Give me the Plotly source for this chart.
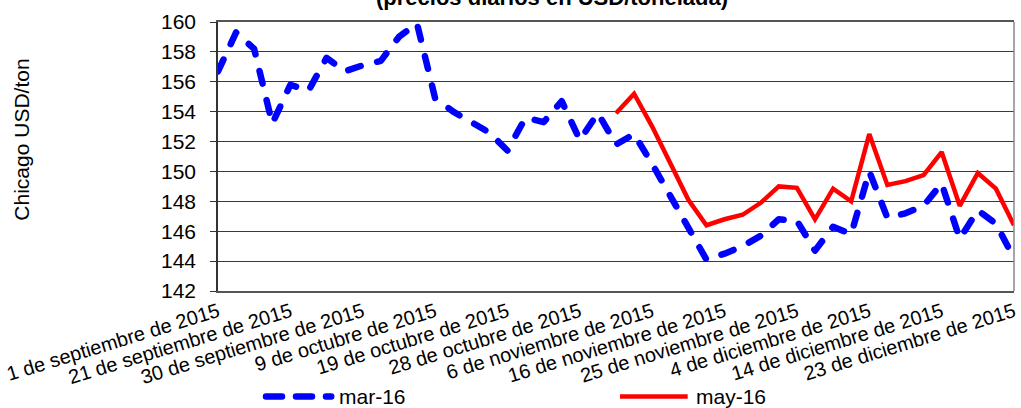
import plotly.graph_objects as go

fechas = [
    "1 de septiembre de 2015", "4 de septiembre de 2015", "9 de septiembre de 2015", "15 de septiembre de 2015",
    "21 de septiembre de 2015", "23 de septiembre de 2015", "25 de septiembre de 2015", "28 de septiembre de 2015",
    "30 de septiembre de 2015", "2 de octubre de 2015", "5 de octubre de 2015", "7 de octubre de 2015",
    "9 de octubre de 2015", "12 de octubre de 2015", "14 de octubre de 2015", "16 de octubre de 2015",
    "19 de octubre de 2015", "21 de octubre de 2015", "23 de octubre de 2015", "26 de octubre de 2015",
    "28 de octubre de 2015", "30 de octubre de 2015", "2 de noviembre de 2015", "4 de noviembre de 2015",
    "6 de noviembre de 2015", "9 de noviembre de 2015", "11 de noviembre de 2015", "13 de noviembre de 2015",
    "16 de noviembre de 2015", "18 de noviembre de 2015", "20 de noviembre de 2015", "23 de noviembre de 2015",
    "25 de noviembre de 2015", "27 de noviembre de 2015", "30 de noviembre de 2015", "2 de diciembre de 2015",
    "4 de diciembre de 2015", "7 de diciembre de 2015", "9 de diciembre de 2015", "11 de diciembre de 2015",
    "14 de diciembre de 2015", "16 de diciembre de 2015", "18 de diciembre de 2015", "21 de diciembre de 2015",
    "23 de diciembre de 2015",
]

mar16 = [
    156.7, 159.3, 158.2, 153.2, 155.8, 155.4, 157.6, 156.7, 157.1, 157.4,
    159.0, 159.9, 154.9, 154.0, 153.3, 152.6, 151.4, 153.6, 153.3, 154.7,
    152.1, 153.9, 151.8, 152.5, 150.5, 148.4, 146.3, 144.1, 144.5, 145.0,
    145.7, 146.8, 146.7, 144.7, 146.3, 145.8, 150.0, 146.9, 147.2, 147.7,
    149.2, 145.5, 147.4, 146.5, 144.2,
]

may16 = [None] * 22 + [
    153.9, 155.2, 153.0, 150.6, 148.1, 146.4, 146.8, 147.1, 147.9, 149.0,
    148.9, 146.8, 148.85, 148.0, 152.5, 149.1, 149.35, 149.75, 151.3, 147.7,
    149.9, 148.85, 146.4,
]

etiquetas_x = fechas[::4]
y_ticks = list(range(142, 161, 2))

W, H = 1021, 408
L, R, T, B = 218.3, 1017.7, 22.0, 290.7
FONT = "Arial, Liberation Sans, sans-serif"


def px(x):
    return (x - L) / (R - L)


def py(y):
    return (B - y) / (B - T)


fig = go.Figure()
fig.add_trace(go.Scatter(
    x=fechas, y=mar16, mode="lines", name="mar-16",
    line=dict(color="#0000FF", width=6.5, dash="13px,17px"),
))
fig.add_trace(go.Scatter(
    x=fechas, y=may16, mode="lines", name="may-16",
    line=dict(color="#FF0000", width=4.5),
))

fig.update_layout(
    width=W, height=H,
    margin=dict(l=L, r=W - R, t=T, b=H - B, pad=0),
    paper_bgcolor="white", plot_bgcolor="white",
    showlegend=False,
    font=dict(family=FONT, color="black"),
)
fig.update_xaxes(
    type="category", range=[0, len(fechas) - 1],
    tickmode="array", tickvals=etiquetas_x, ticktext=etiquetas_x,
    tickangle=-17, tickfont=dict(size=20, family=FONT, color="black"),
    showgrid=False, showline=True, linecolor="#555555", linewidth=1.5, mirror=True,
    ticks="", zeroline=False,
)
fig.update_yaxes(
    range=[142, 160], tickmode="array", tickvals=y_ticks,
    tickfont=dict(size=21, family=FONT, color="black"),
    showgrid=True, gridcolor="#3a3a3a", gridwidth=1,
    showline=True, linecolor="#333333", linewidth=1.5,
    ticks="outside", ticklen=6, tickcolor="#333333", ticklabelstandoff=10,
    zeroline=False,
)

# right border of plot area
fig.add_shape(type="line", xref="paper", yref="paper", x0=1, x1=1, y0=0, y1=1,
              line=dict(color="#888888", width=1.5))

# y-axis title
fig.add_annotation(text="Chicago USD/ton", xref="paper", yref="paper",
                   x=px(21), y=py(140), textangle=-90, showarrow=False,
                   xanchor="center", yanchor="middle",
                   font=dict(size=21, family=FONT, color="black"))

# title (partially cut at top)
fig.add_annotation(text="<b>(precios diarios en USD/tonelada)</b>", xref="paper", yref="paper",
                   x=px(553.5), y=py(12), showarrow=False,
                   xanchor="center", yanchor="bottom",
                   font=dict(size=22, family=FONT, color="black"))

# legend (drawn manually)
ly = py(396)
fig.add_shape(type="line", xref="paper", yref="paper", x0=px(266.5), x1=px(332), y0=ly, y1=ly,
              line=dict(color="#0000FF", width=6.5, dash="16px,14px"))
fig.add_annotation(text="mar-16", xref="paper", yref="paper", x=px(338), y=ly,
                   xanchor="left", yanchor="middle", showarrow=False,
                   font=dict(size=21, family=FONT, color="black"))
fig.add_shape(type="line", xref="paper", yref="paper", x0=px(622), x1=px(690), y0=ly, y1=ly,
              line=dict(color="#FF0000", width=4.5))
fig.add_annotation(text="may-16", xref="paper", yref="paper", x=px(696), y=ly,
                   xanchor="left", yanchor="middle", showarrow=False,
                   font=dict(size=21, family=FONT, color="black"))

post = """
document.body.style.margin='0';
document.body.style.overflow='hidden';
document.querySelectorAll('path').forEach(function(p){
  if (p.style.stroke === 'rgb(0, 0, 255)') {
    p.style.strokeLinecap = 'round';
    p.style.strokeLinejoin = 'round';
  }
});
"""

fig.write_html(
    "out.html",
    config={"displayModeBar": False},
    post_script=post,
)
